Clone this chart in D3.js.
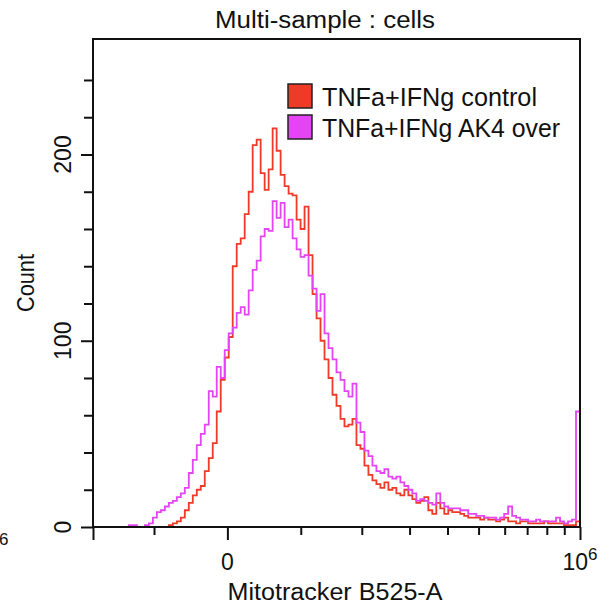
<!DOCTYPE html>
<html>
<head>
<meta charset="utf-8">
<script src="https://cdn.jsdelivr.net/npm/d3@7"></script>
<style>
  body { margin: 0; background: #fff; }
  svg { display: block; }
  text { font-family: "Liberation Sans", Arial, sans-serif; fill: #111; }
</style>
</head>
<body>
<div id="chart"></div>
<script>
// histogram counts per display channel (122 channels across the axis, left to right)
const control = [
  0,0,0,0,0,0,0,0,0,0, 0,0,0,0,0,0,0,0,0,1,
  2,3,5,9,13,17,20,22,30,37, 45,62,79,91,102,140,152,155,168,180,
  205,208,190,181,192,214,202,189,183,179, 178,165,160,172,146,125,112,100,90,80,
  71,65,58,54,55,58,44,42,33,28, 25,23,21,24,20,21,18,17,20,17,
  15,13,14,16,9,7,13,10,7,9, 8,8,7,6,5,5,5,4,5,4,
  4,3,4,5,3,3,2,3,3,2, 2,2,2,3,2,2,2,2,1,1,
  1,3
]
const ak4over = [
  0,0,0,0,0,0,0,0,0,1, 1,0,0,1,2,5,8,9,11,13,
  14,16,18,21,29,36,44,50,55,73, 70,86,80,95,104,107,115,118,114,127,
  138,143,156,160,159,175,166,174,161,165, 155,149,145,146,135,128,116,125,104,96,
  90,83,79,73,70,77,56,51,41,38, 33,30,29,31,27,26,27,24,22,20,
  18,14,15,14,13,12,18,13,11,10, 10,10,9,9,7,7,6,6,5,5,
  5,4,5,7,11,6,5,4,4,3, 3,4,3,3,3,3,5,3,2,3,
  4,62
]
const seriesNames = ['TNFa+IFNg control', 'TNFa+IFNg AK4 over']
const seriesColors = ['#ee3a26', '#e444f4']

const xMin = -2e5, xMax = 1e6, cofactor = 2e5
const xMinorTicks = [-1e5, 1e5, 2e5, 3e5, 4e5, 5e5, 6e5, 7e5, 8e5, 9e5]
const xMajorTicks = [-2e5, 0, 1e6]
const yMax = 262
const yMajorTicks = [0, 100, 200]
const yMinorTicks = [20, 40, 60, 80, 120, 140, 160, 180, 220, 240]

const width = 613, height = 605
const plotLeft = 93, plotRight = 580, plotTop = 39, plotBottom = 527

let svg = d3.select('#chart').append('svg')
  .attr('width', width)
  .attr('height', height)

// biexponential-like display transform
const tx = v => Math.asinh(v / cofactor)
let xT = d3.scaleLinear().domain([tx(xMin), tx(xMax)]).range([plotLeft, plotRight])
let y = d3.scaleLinear().domain([0, yMax]).range([plotBottom, plotTop])

const nBins = control.length
const edges = d3.range(nBins + 1).map(i => tx(xMin) + i * (tx(xMax) - tx(xMin)) / nBins)

let line = d3.line()
  .x(d => xT(d[0]))
  .y(d => y(d[1]))
  .curve(d3.curveStepAfter)

const stepPoints = counts => counts.map((c, i) => [edges[i], c]).concat([[edges[nBins], counts[nBins - 1]]])

let plot = svg.append('g')
;[control, ak4over].forEach((counts, k) => {
  plot.append('path')
    .attr('d', line(stepPoints(counts)))
    .attr('fill', 'none')
    .attr('stroke', seriesColors[k])
    .attr('stroke-width', 1.8)
})

// frame
svg.append('rect')
  .attr('x', plotLeft).attr('y', plotTop)
  .attr('width', plotRight - plotLeft).attr('height', plotBottom - plotTop)
  .attr('fill', 'none').attr('stroke', '#111').attr('stroke-width', 2)

// x ticks
let xAxisMinor = d3.axisBottom(xT).tickValues(xMinorTicks.map(tx)).tickSize(8).tickFormat('')
let xAxisMajor = d3.axisBottom(xT).tickValues(xMajorTicks.map(tx)).tickSize(13).tickFormat('')
;[xAxisMinor, xAxisMajor].forEach(ax => {
  let g = svg.append('g').attr('transform', `translate(0,${plotBottom})`).call(ax)
  g.select('.domain').remove()
  g.selectAll('line').attr('stroke', '#111').attr('stroke-width', 2)
})

// y ticks
let yAxisMinor = d3.axisLeft(y).tickValues(yMinorTicks).tickSize(9).tickFormat('')
let yAxisMajor = d3.axisLeft(y).tickValues(yMajorTicks).tickSize(12).tickFormat('')
;[yAxisMinor, yAxisMajor].forEach(ax => {
  let g = svg.append('g').attr('transform', `translate(${plotLeft},0)`).call(ax)
  g.select('.domain').remove()
  g.selectAll('line').attr('stroke', '#111').attr('stroke-width', 2)
})

// y tick labels (rotated)
svg.selectAll('.ylab')
  .data(yMajorTicks)
  .enter()
  .append('text')
  .attr('class', 'ylab')
  .attr('transform', d => `translate(71,${y(d)}) rotate(-90)`)
  .attr('text-anchor', 'middle')
  .attr('font-size', 23)
  .text(d => d)

// x tick labels
svg.append('text')
  .attr('x', xT(tx(0))).attr('y', 570)
  .attr('text-anchor', 'middle').attr('font-size', 23)
  .text('0')

let sup = svg.append('text')
  .attr('x', xT(tx(1e6))).attr('y', 570)
  .attr('text-anchor', 'middle').attr('font-size', 23)
sup.append('tspan').text('10')
sup.append('tspan').attr('dy', -10).attr('font-size', 17).text('6')

// leftover label from the neighbouring panel
svg.append('text')
  .attr('x', -1).attr('y', 545)
  .attr('font-size', 17)
  .text('6')

// titles
svg.append('text')
  .attr('x', 325).attr('y', 28)
  .attr('text-anchor', 'middle').attr('font-size', 23)
  .attr('textLength', 220).attr('lengthAdjust', 'spacingAndGlyphs')
  .text('Multi-sample : cells')

svg.append('text')
  .attr('x', 335).attr('y', 600)
  .attr('text-anchor', 'middle').attr('font-size', 23)
  .attr('textLength', 215).attr('lengthAdjust', 'spacingAndGlyphs')
  .text('Mitotracker B525-A')

svg.append('text')
  .attr('transform', `translate(34,${(plotTop + plotBottom) / 2}) rotate(-90)`)
  .attr('text-anchor', 'middle').attr('font-size', 23)
  .attr('textLength', 58).attr('lengthAdjust', 'spacingAndGlyphs')
  .text('Count')

// legend
let legend = svg.append('g').attr('transform', 'translate(288,84)')
seriesNames.forEach((name, k) => {
  let row = legend.append('g').attr('transform', `translate(0,${k * 31})`)
  row.append('rect')
    .attr('width', 24).attr('height', 24)
    .attr('fill', seriesColors[k])
    .attr('stroke', '#222').attr('stroke-width', 1.5)
  row.append('text')
    .attr('x', 34).attr('y', 22)
    .attr('font-size', 25)
    .attr('textLength', k === 0 ? 215 : 238).attr('lengthAdjust', 'spacingAndGlyphs')
    .text(name)
})
</script>
</body>
</html>
